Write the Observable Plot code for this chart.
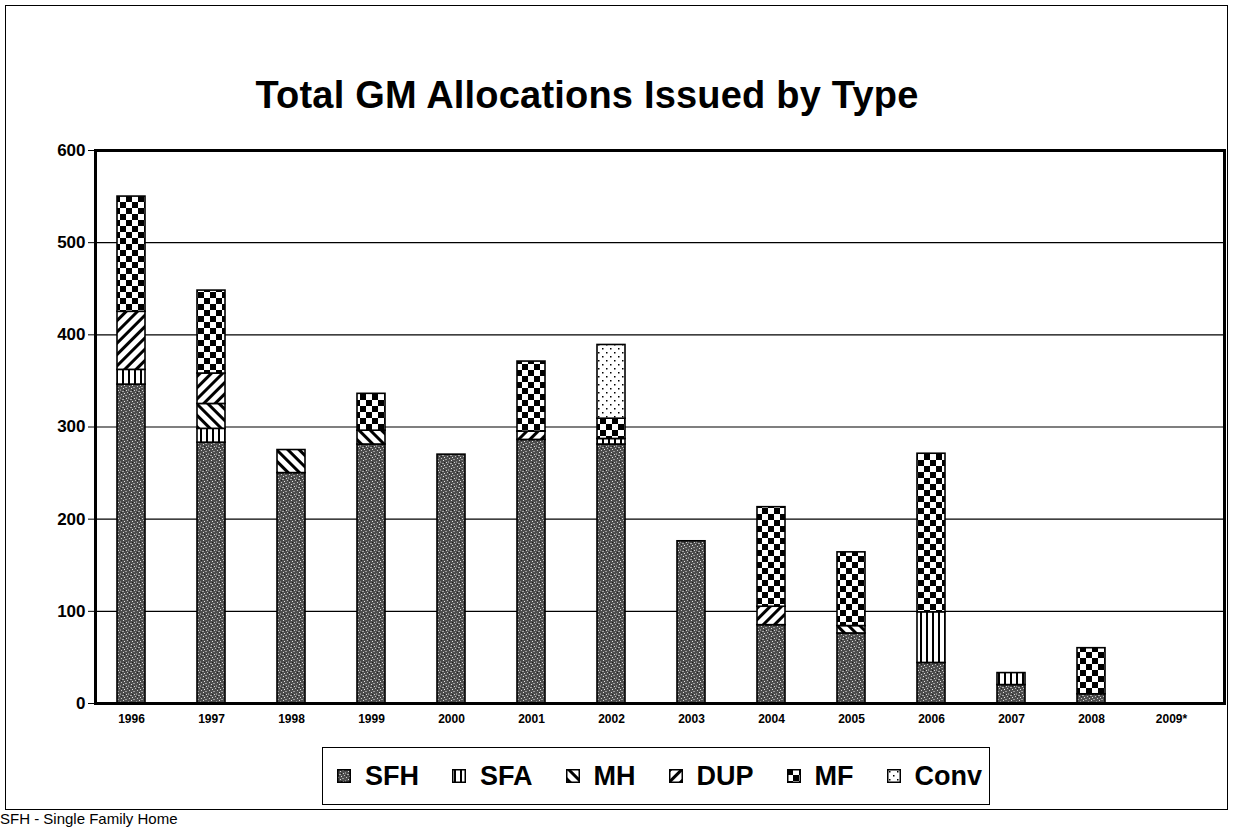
<!DOCTYPE html>
<html>
<head>
<meta charset="utf-8">
<script src="https://cdn.jsdelivr.net/npm/d3@7"></script>
<script src="https://cdn.jsdelivr.net/npm/@observablehq/plot@0.6"></script>
<style>
  html, body { margin: 0; padding: 0; background: #fff; }
  #wrap { position: relative; width: 1233px; height: 827px; overflow: hidden;
          font-family: "Liberation Sans", Arial, sans-serif; color: #000; }
  #outer { position: absolute; left: 5px; top: 5px; width: 1223px; height: 805px;
           border: 1.5px solid #000; box-sizing: border-box; }
  #title { position: absolute; left: 250px; width: 674px; top: 76px; text-align: center;
           font-size: 38px; font-weight: bold; line-height: 1; letter-spacing: 0.2px; white-space: nowrap; }
  #chart { position: absolute; left: 0; top: 130px; }
  #chart svg { overflow: visible; }
  #chart g[aria-label^="y-axis"] text { font-size: 17px; font-weight: bold; font-family: "Liberation Sans", Arial, sans-serif; }
  #chart g[aria-label^="x-axis"] text { font-size: 12px; font-weight: bold; font-family: "Liberation Sans", Arial, sans-serif; }
  #legend { position: absolute; left: 322px; top: 747px; width: 668px; height: 58px;
            border: 1.5px solid #000; box-sizing: border-box; background: #fff;
            display: flex; align-items: center; padding-left: 14px; }
  .item { display: flex; align-items: center; margin-right: 33px; font-size: 27px; font-weight: bold; }
  .item svg { margin-right: 14px; }
  #caption { position: absolute; left: 0; top: 811px; font-size: 15px; line-height: 1; white-space: nowrap; }
</style>
</head>
<body>
<svg width="0" height="0" style="position:absolute">
  <defs>
    <pattern id="p-sfh" width="8" height="8" patternUnits="userSpaceOnUse">
      <rect width="8" height="8" fill="#4d4d4d"/>
      <rect x="1" y="0" width="1" height="1" fill="#c8c8c8"/>
      <rect x="5" y="1" width="2" height="1" fill="#9a9a9a"/>
      <rect x="3" y="2" width="1" height="1" fill="#e0e0e0"/>
      <rect x="0" y="3" width="1" height="2" fill="#8a8a8a"/>
      <rect x="6" y="4" width="1" height="1" fill="#d6d6d6"/>
      <rect x="2" y="5" width="2" height="1" fill="#a8a8a8"/>
      <rect x="7" y="6" width="1" height="1" fill="#bcbcbc"/>
      <rect x="4" y="7" width="1" height="1" fill="#e8e8e8"/>
      <rect x="1" y="6" width="1" height="1" fill="#222"/>
      <rect x="4" y="4" width="1" height="1" fill="#1e1e1e"/>
    </pattern>
    <pattern id="p-sfa" width="6" height="6" patternUnits="userSpaceOnUse">
      <rect width="6" height="6" fill="#fff"/>
      <rect x="2" y="0" width="2" height="6" fill="#000"/>
    </pattern>
    <pattern id="p-mh" width="8" height="8" patternUnits="userSpaceOnUse" patternTransform="rotate(-45)">
      <rect width="8" height="8" fill="#fff"/>
      <rect x="0" y="0" width="3" height="8" fill="#000"/>
    </pattern>
    <pattern id="p-dup" width="8" height="8" patternUnits="userSpaceOnUse" patternTransform="rotate(45)">
      <rect width="8" height="8" fill="#fff"/>
      <rect x="0" y="0" width="3" height="8" fill="#000"/>
    </pattern>
    <pattern id="p-mf" width="12" height="12" patternUnits="userSpaceOnUse">
      <rect width="12" height="12" fill="#fff"/>
      <rect x="0" y="0" width="6" height="6" fill="#000"/>
      <rect x="6" y="6" width="6" height="6" fill="#000"/>
    </pattern>
    <pattern id="p-conv" width="8" height="8" patternUnits="userSpaceOnUse">
      <rect width="8" height="8" fill="#fff"/>
      <rect x="2" y="2" width="1.5" height="1.5" fill="#000"/>
      <rect x="6" y="6" width="1.5" height="1.5" fill="#000"/>
    </pattern>
  </defs>
</svg>
<div id="wrap">
  <div id="outer"></div>
  <div id="title">Total GM Allocations Issued by Type</div>
  <div id="chart"></div>
  <div id="legend"></div>
  <div id="caption">SFH - Single Family Home</div>
</div>
<script>
// ---- data ----
const years = ["1996","1997","1998","1999","2000","2001","2002","2003","2004","2005","2006","2007","2008","2009*"];
const types = ["SFH","SFA","MH","DUP","MF","Conv"];
const SFH  = [346, 283, 250, 281, 270, 286, 281, 176, 85, 76, 44, 20, 10, 0];
const SFA  = [16,  15,  0,   0,   0,   0,   6,   0,   0,  0,  55, 13, 0,  0];
const MH   = [0,   27,  25,  15,  0,   0,   0,   0,   0,  8,  0,  0,  0,  0];
const DUP  = [63,  33,  0,   0,   0,   9,   0,   0,   20, 0,  0,  0,  0,  0];
const MF   = [125, 90,  0,   40,  0,   76,  22,  0,   108,80, 172,0,  50, 0];
const Conv = [0,   0,   0,   0,   0,   0,   80,  0,   0,  0,  0,  0,  0,  0];
const yTicks = [0, 100, 200, 300, 400, 500, 600];

const seriesValues = [SFH, SFA, MH, DUP, MF, Conv];
const fills = ["url(#p-sfh)","url(#p-sfa)","url(#p-mh)","url(#p-dup)","url(#p-mf)","url(#p-conv)"];

const data = years.flatMap((year, i) =>
  types.map((type, k) => ({year, type, value: seriesValues[k][i]}))
).filter(d => d.value > 0);

const chart = Plot.plot({
  width: 1233,
  height: 610,
  marginTop: 20,
  marginBottom: 37,
  marginLeft: 95,
  marginRight: 9,
  style: {background: "transparent", fontFamily: "Liberation Sans, Arial, sans-serif", color: "#000"},
  x: {domain: years, range: [95, 1207.5], paddingInner: 0.652, paddingOuter: 0.236,
      label: null, tickSize: 0, tickPadding: 11},
  y: {domain: [0, 600], ticks: yTicks, label: null, tickSize: 7, tickPadding: 3},
  color: {domain: types, range: fills},
  marks: [
    Plot.ruleY(yTicks, {stroke: "#000", strokeWidth: 1.2}),
    Plot.barY(data, {x: "year", y: "value", fill: "type", stroke: "#000", strokeWidth: 1.6}),
    Plot.frame({stroke: "#000", strokeWidth: 3})
  ]
});
document.getElementById("chart").appendChild(chart);

// ---- legend ----
const legend = document.getElementById("legend");
types.forEach((t, k) => {
  const item = document.createElement("div");
  item.className = "item";
  item.innerHTML = `<svg width="14" height="14"><rect x="0.75" y="0.75" width="12.5" height="12.5" fill="${fills[k]}" stroke="#000" stroke-width="1.5"/></svg><span>${t}</span>`;
  legend.appendChild(item);
});
</script>
</body>
</html>
